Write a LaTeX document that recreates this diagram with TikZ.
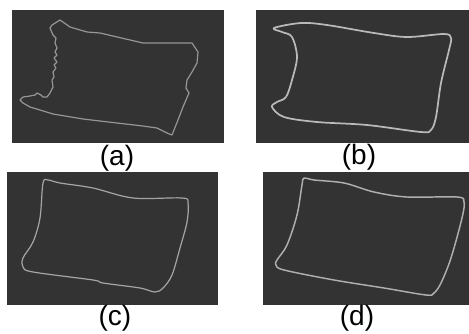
\documentclass[tikz,border=0pt]{standalone}
\usepackage{fontspec}
\setmainfont{Liberation Sans}
\definecolor{panelbg}{RGB}{51,51,51}
\definecolor{edgeA}{RGB}{150,150,150}
\definecolor{edgeB}{RGB}{185,185,185}
\definecolor{edgeC}{RGB}{165,165,165}
\definecolor{edgeD}{RGB}{175,175,175}
\tikzset{
  panel/.style={fill=panelbg, draw=none},
  contour/.style={line width=1.1pt, line join=round, line cap=round},
  caption/.style={font=\fontsize{21}{24}\selectfont, inner sep=0pt, anchor=center}
}
\begin{document}
\begin{tikzpicture}[x=0.75pt, y=-0.75pt]
\useasboundingbox (0,0) rectangle (469,333);
\fill[white] (0,0) rectangle (469,333);

% dark image panels
\fill[panel] (12,10) rectangle (224,143);
\fill[panel] (256,10) rectangle (469,143);
\fill[panel] (7,172) rectangle (218,305);
\fill[panel] (263,172) rectangle (469,305);

% (a) raw contour with a ragged left side
\draw[contour, edgeA, line width=0.9pt] (60,20) -- (70,27) -- (87,32) -- (100,33) -- (143,43) -- (160,43) -- (192,43)
  -- (198,52) -- (197,63) -- (192,72) -- (187,80) -- (186,88) -- (189,93)
  -- (183,107) -- (178,120) -- (172,135) -- (167,133) -- (157,128) -- (143,126)
  -- (117,123) -- (83,119) -- (53,114) -- (40,110) -- (30,107) -- (23,103)
  -- (20,100) -- (23,97) -- (30,96) -- (35,95) -- (37,93) -- (41,95) -- (43,97)
  -- (47,97) -- (50,93) -- (53,87) -- (52,80) -- (54,77) -- (53,72) -- (56,68)
  -- (54,65) -- (57,62) -- (54,58) -- (57,55) -- (55,52) -- (57,48) -- (55,43)
  -- (56,38) -- (53,35) -- (50,28) -- (52,25) -- cycle;

% (b) smoothed contour
\draw[contour, edgeB, line width=1.3pt] plot[smooth cycle, tension=0.55] coordinates {
  (274,28) (301,23) (327,25) (374,33) (407,37) (444,34) (451,38) (449,50)
  (441,83) (436,117) (431,130) (421,132) (367,125) (317,122) (284,117)
  (272,107) (277,102) (286,97) (292,80) (297,57) (292,37) (282,32)};

% (c) smoothed contour
\draw[contour, edgeC, line width=0.9pt] plot[smooth cycle, tension=0.55] coordinates {
  (43,183) (48,180) (60,183) (93,188) (133,198) (182,198) (188,203) (187,222)
  (180,248) (172,275) (163,288) (155,292) (140,288) (103,283) (93,280)
  (33,272) (23,267) (23,258) (33,242) (40,218)};

% (d) smoothed contour
\draw[contour, edgeD, line width=1.1pt] plot[smooth cycle, tension=0.55] coordinates {
  (304,178) (314,180) (344,183) (374,192) (407,197) (457,197) (464,202) (462,218)
  (451,258) (441,283) (434,293) (426,295) (384,288) (334,280) (284,270)
  (276,265) (277,260) (287,245) (297,215) (302,185)};

% captions
\node[caption] (la) at (117,158) {(a)};
\node[caption] (lb) at (359,157) {(b)};
\node[caption] (lc) at (115,318) {(c)};
\node[caption] (ld) at (357,318) {(d)};
\end{tikzpicture}
\end{document}
